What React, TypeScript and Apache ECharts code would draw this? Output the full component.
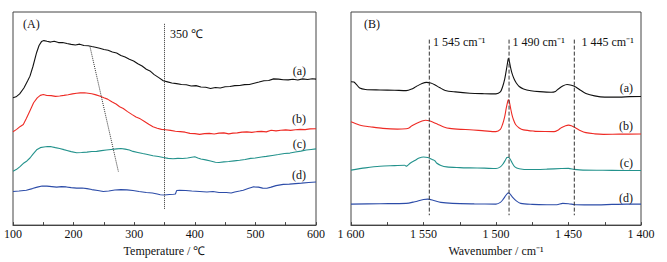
import React, { useEffect, useRef } from "react";
import * as echarts from "echarts";

// Panel A: temperature (℃) vs intensity (arbitrary units)
const tempA: [number, number][] = [[100,129],[105,130],[111,133],[118,139],[124,146],[128,151],[133,161],[139,175],[143,182],[147,186],[151,187],[156,186.3],[162,185.5],[168,186.4],[175,185],[182,185.1],[189,184],[196,183.2],[203,182.5],[210,183.4],[217,182],[224,181.8],[230,181],[236,180.3],[243,179.2],[250,178],[257,177.3],[264,175.5],[271,174.4],[278,172],[285,170.3],[292,168],[299,166.4],[306,163.5],[313,161.2],[320,158],[326,156.3],[333,152.5],[340,149.7],[348,146.3],[355,145.2],[362,144],[370,143.4],[378,142.5],[386,142.3],[394,141],[402,141.4],[410,140],[418,139.7],[426,138.5],[434,139.4],[442,139],[450,140.2],[458,140.5],[466,141.4],[474,141.5],[482,142.4],[490,142.5],[498,143.8],[506,145],[514,146.3],[522,146.5],[530,148.2],[538,148],[546,147.3],[554,147.2],[562,147.8],[570,147],[578,148.2],[586,147.5],[594,148.3],[600,148]];
const tempB: [number, number][] = [[100,94.7],[106,97],[112,100],[117,102],[122,108],[128,116],[134,124],[140,129],[145,131.5],[150,132.3],[156,131.3],[163,131.2],[170,130.5],[177,130.9],[184,131.5],[191,132.2],[198,133],[205,133.6],[211,134],[218,134.2],[224,133.7],[230,133.2],[237,132],[244,130.7],[250,129],[256,127.7],[263,125],[270,122.7],[276,120],[282,118.2],[289,115],[296,112.2],[303,109.5],[310,107.7],[317,105],[324,102.2],[331,99.7],[338,98.2],[345,97],[352,96.7],[360,96],[368,95.2],[376,94.7],[384,94.2],[392,93],[400,92.7],[408,92],[416,92.7],[424,93],[432,92.4],[440,93.2],[448,93.5],[456,92.5],[463,93.2],[470,93.5],[478,94.2],[486,94.5],[494,94],[502,94.7],[510,95],[518,94.5],[526,96.2],[534,95.5],[542,96.2],[550,96.5],[558,96],[566,96.7],[574,97],[582,96.8],[590,97.5],[600,97.7]];
const tempC: [number, number][] = [[100,54.7],[106,56.5],[112,59.5],[118,63],[123,65],[128,68],[133,72],[139,76.3],[145,78.5],[151,79.2],[157,79.7],[163,79.5],[170,78.5],[177,77.7],[184,76.5],[189,75.7],[196,74.5],[205,73.3],[213,73.6],[222,74],[230,74.6],[238,74.7],[246,75.5],[254,76.1],[262,76.7],[271,77.3],[278,77.6],[285,77],[292,76.1],[298,74.7],[306,73.6],[314,72.5],[322,71.6],[331,70.3],[340,69.6],[348,68.5],[356,67.6],[364,67.3],[372,67.6],[380,67.5],[388,68],[395,68.7],[400,69.2],[405,68],[410,67],[418,66.1],[426,65],[434,63.7],[440,63.5],[448,64.1],[456,64.5],[465,65.1],[474,65.7],[483,66.5],[492,67.6],[500,68],[510,69.1],[518,69.7],[528,70.6],[538,71.5],[548,72.6],[557,73],[566,74.1],[575,75],[584,76.1],[592,76.7],[600,77.3]];
const tempD: [number, number][] = [[100,34],[110,34.5],[122,35.3],[132,37],[140,38.5],[148,39.7],[156,39.5],[164,39],[172,38.5],[180,39],[188,38.7],[196,38],[205,37.5],[214,37.6],[222,37],[230,36],[240,35],[249,34],[258,34.5],[268,35.5],[278,36],[288,35.7],[298,35],[308,34],[320,33],[330,32.5],[338,31.5],[343,30.7],[350,30.5],[358,31],[365,31.3],[368,31.5],[370,35],[375,35.3],[385,35],[395,34.5],[408,34],[420,33.5],[430,34],[440,33],[452,33],[460,32.5],[466,33.5],[474,34.5],[480,35.3],[488,37],[496,38.7],[505,38.5],[512,37.5],[519,37.3],[526,38.5],[534,40],[546,41.3],[556,41.5],[566,42],[576,42.5],[588,43.2],[600,43.7]];

// Panel B: wavenumber (cm-1) vs intensity (arbitrary units)
const wnA: [number, number][] = [[1600,145.3],[1598,145],[1596.5,143],[1594,139],[1590,137.5],[1580,137],[1570,136.7],[1562,136.3],[1558,138],[1555,140.5],[1551,143.5],[1548,144.7],[1545,144],[1542,142],[1539,139.5],[1535,136.5],[1528,135],[1518,133.7],[1508,133.2],[1500,133],[1497,135],[1495.5,140],[1494,148],[1493,156],[1492,165],[1491.5,169],[1490.8,166],[1490,160],[1489,154],[1487.5,148],[1486,144],[1484,140.5],[1481,138],[1476,136.2],[1470,135.3],[1462,134.7],[1459,135.5],[1457,138],[1454,141],[1451,142.5],[1448,141.7],[1445,140],[1442,137],[1438,133.5],[1432,131],[1425,129.7],[1415,129.7],[1408,130.2],[1400,130.3]];
const wnB: [number, number][] = [[1600,104.7],[1597,103],[1593,101],[1587,99.7],[1578,98],[1568,97.3],[1562,97.7],[1560,98.5],[1558,100.7],[1555,103],[1551,105.5],[1548.5,106.3],[1546,105.7],[1543,104],[1540,102],[1536,99.5],[1532,98],[1524,97],[1518,96.7],[1508,95.5],[1500,94.7],[1497,97],[1495.5,102],[1494,110],[1493,118],[1492,125],[1491.5,127],[1490.8,125],[1490,119],[1489,112],[1488,107],[1486.5,102],[1484,98.5],[1481,96.5],[1474,95.3],[1466,94.8],[1460,94.7],[1457,96.5],[1455,98.7],[1452,100.7],[1450,101.3],[1448,100.7],[1445,98.5],[1442,96],[1438,93.7],[1432,92.5],[1426,92],[1415,92.2],[1400,92.3]];
const wnC: [number, number][] = [[1600,55.7],[1590,58],[1580,59.7],[1570,60.3],[1563,60.7],[1562,59.7],[1561,60.5],[1559,63],[1556,65.5],[1553,68],[1550,69],[1547,68.5],[1544,66.5],[1542,65],[1541,63],[1538,60.5],[1534,59],[1525,58.3],[1518,58],[1508,57.7],[1500,57.3],[1497,59],[1495,62.3],[1493.5,66],[1492.5,68.5],[1491.5,68.7],[1490.3,67],[1489,63.5],[1487,59],[1484,57.2],[1477,56.3],[1465,56.7],[1455,57.3],[1450,57.5],[1446,56.5],[1440,55.7],[1420,55.5],[1400,55.3]];
const wnD: [number, number][] = [[1600,21.3],[1580,21.7],[1562,22],[1556,23.7],[1550,26],[1547,26.3],[1543,25],[1538,23],[1530,22],[1515,21.5],[1500,21.3],[1497,23],[1495,26.3],[1493,30.5],[1491.5,32.7],[1490,31],[1488.5,28],[1486,24.5],[1483,22],[1475,21],[1465,20.7],[1458,20.7],[1454,22],[1450,21.7],[1445,20.7],[1430,20.5],[1420,21],[1410,21.3],[1400,21.3]];

const guideTemp = 350;
const guideSlope: [number, number][] = [[227, 181], [274, 54]];
const guideWn = [1546, 1491, 1446];
const guideWnLabels = ["1 545 cm⁻¹", "1 490 cm⁻¹", "1 445 cm⁻¹"];
const curveLabels = ["(a)", "(b)", "(c)", "(d)"];

const FONT = "'Liberation Serif', 'Times New Roman', serif";
const COLORS = ["#111111", "#ee2b25", "#23928c", "#2c4ca8"];

function fmtWn(v: number) {
  const s = String(v);
  return s.length > 3 ? s.slice(0, s.length - 3) + " " + s.slice(-3) : s;
}

export default function App() {
  const ref = useRef<HTMLDivElement>(null);
  useEffect(() => {
    if (!ref.current) return;
    const chart = echarts.init(ref.current, null, { renderer: "svg" });
    const axisCommon = {
      axisLine: { show: true, lineStyle: { color: "#444", width: 1 } },
      axisTick: { show: true, inside: true, length: 3, lineStyle: { color: "#444" } },
      minorTick: { show: true, splitNumber: 2, length: 3, lineStyle: { color: "#444" } },
      splitLine: { show: false },
      axisLabel: { color: "#111", fontFamily: FONT, fontSize: 12, margin: 3 },
      nameLocation: "middle" as const,
      nameGap: 16,
      nameTextStyle: { color: "#111", fontFamily: FONT, fontSize: 12 },
    };
    const lineS = (data: [number, number][], idx: number, color: string, smooth: number | boolean) => ({
      type: "line",
      xAxisIndex: idx,
      yAxisIndex: idx,
      data,
      showSymbol: false,
      smooth,
      lineStyle: { color, width: 1.1 },
      silent: true,
    });
    const guide = (data: [number, number][], idx: number, type: "dotted" | "dashed") => ({
      type: "line",
      xAxisIndex: idx,
      yAxisIndex: idx,
      data,
      showSymbol: false,
      lineStyle: { color: "#333", width: 1, type },
      silent: true,
    });
    const textEl = (text: string, x: number, y: number, align: "left" | "right" = "left") => ({
      type: "text",
      x,
      y,
      style: { text, fill: "#111", font: `12px ${FONT}`, textAlign: align, textVerticalAlign: "middle" },
    });
    const leftLabelY = [70.7, 119, 144, 175];
    const rightLabelY = [88.3, 125.5, 163.3, 198.3];
    const wnLabelX = [433, 512.5, 581.5];
    chart.setOption({
      animation: false,
      grid: [
        { left: 13, top: 12, width: 303, height: 216, show: true, borderColor: "#444", borderWidth: 1 },
        { left: 351, top: 12, width: 290, height: 216, show: true, borderColor: "#444", borderWidth: 1 },
      ],
      xAxis: [
        { ...axisCommon, type: "value", gridIndex: 0, min: 100, max: 600, interval: 100, name: "Temperature / ℃" },
        {
          ...axisCommon,
          type: "value",
          gridIndex: 1,
          min: 1400,
          max: 1600,
          interval: 50,
          inverse: true,
          name: "Wavenumber / cm⁻¹",
          axisLabel: { ...axisCommon.axisLabel, formatter: (v: number) => fmtWn(v) },
        },
      ],
      yAxis: [
        { type: "value", gridIndex: 0, min: 0, max: 216, show: false },
        { type: "value", gridIndex: 1, min: 0, max: 216, show: false },
      ],
      series: [
        lineS(tempA, 0, COLORS[0], false),
        lineS(tempB, 0, COLORS[1], false),
        lineS(tempC, 0, COLORS[2], false),
        lineS(tempD, 0, COLORS[3], false),
        guide([[guideTemp, 204], [guideTemp, 16]], 0, "dotted"),
        guide(guideSlope, 0, "dotted"),
        lineS(wnA, 1, COLORS[0], 0.3),
        lineS(wnB, 1, COLORS[1], 0.3),
        lineS(wnC, 1, COLORS[2], 0.3),
        lineS(wnD, 1, COLORS[3], 0.3),
        ...guideWn.map((w) => guide([[w, 188], [w, 10]], 1, "dashed")),
      ],
      graphic: [
        textEl("(A)", 23, 24),
        textEl("350 ℃", 170, 34),
        textEl("(B)", 364, 24),
        ...guideWnLabels.map((t, i) => textEl(t, wnLabelX[i], 42)),
        ...curveLabels.map((t, i) => textEl(t, 306, leftLabelY[i], "right")),
        ...curveLabels.map((t, i) => textEl(t, 633, rightLabelY[i], "right")),
      ],
    });
    return () => chart.dispose();
  }, []);
  return <div ref={ref} style={{ position: "absolute", left: 0, top: 0, width: 667, height: 262 }} />;
}
